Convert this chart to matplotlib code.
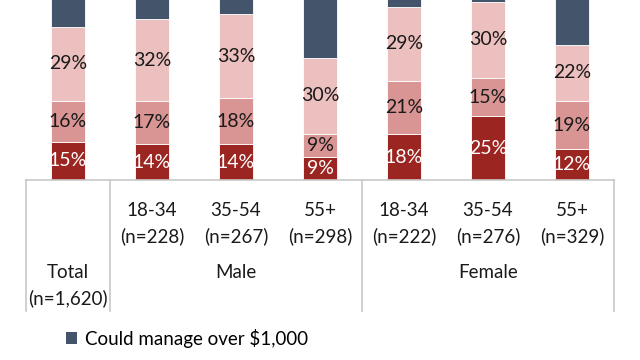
import matplotlib
matplotlib.use("Agg")
import matplotlib.pyplot as plt
from matplotlib.patches import Patch

plt.rcParams['font.family'] = ['Lato', 'DejaVu Sans']

# data (bottom to top of each stacked bar)
groups = ["Total", "18-34", "35-54", "55+", "18-34", "35-54", "55+"]
sizes = ["(n=1,620)", "(n=228)", "(n=267)", "(n=298)", "(n=222)", "(n=276)", "(n=329)"]
none_at_all = [15, 14, 14, 9, 18, 25, 12]
up_to_some = [16, 17, 18, 9, 21, 15, 19]
more = [29, 32, 33, 30, 29, 30, 22]
over_1000 = [40, 37, 35, 52, 32, 30, 47]

series = [none_at_all, up_to_some, more, over_1000]
colors = ["#9b2520", "#d99593", "#ebc0bf", "#44546a"]
label_colors = ["white", "#1a1a1a", "#1a1a1a", None]

PX = 2.55  # pixels per percent

fig = plt.figure(figsize=(6.4, 3.6), dpi=100)
ax = fig.add_axes([26 / 640, 0.5, 588 / 640, 0.5])

x = list(range(len(groups)))
bottom = [0] * len(x)
for vals, col, lc in zip(series, colors, label_colors):
    ax.bar(x, vals, bottom=bottom, width=0.4, color=col, edgecolor="white", linewidth=0.6)
    if lc is not None:
        for i, v in enumerate(vals):
            ax.text(i, bottom[i] + v / 2, "%d%%" % v, ha="center", va="center",
                    fontsize=14, color=lc)
    bottom = [b + v for b, v in zip(bottom, vals)]

ax.set_xlim(-0.5, 6.5)
ax.set_ylim(0, 180 / PX)
ax.axis("off")

# table-like category axis
line_col = "#c8c8c8"
ax.plot([-0.5, 6.5], [0, 0], color=line_col, lw=1.2, clip_on=False)
for xv in [-0.5, 0.5, 3.5, 6.5]:
    ax.plot([xv, xv], [0, -131 / PX], color=line_col, lw=1.2, clip_on=False)

def put(xv, px_below, s):
    ax.annotate(s, xy=(xv, 0), xytext=(0, -px_below * 0.72), textcoords="offset points",
                ha="center", va="center", fontsize=13.5, color="#1a1a1a", annotation_clip=False)

for i in range(1, 7):
    put(i, 31, groups[i])
    put(i, 56, sizes[i])
put(0, 92, groups[0])
put(0, 118, sizes[0])
put(2, 92, "Male")
put(5, 92, "Female")

fig.legend(handles=[Patch(facecolor=colors[3], edgecolor="none")],
           labels=["Could manage over $1,000"], loc="center left",
           bbox_to_anchor=(49 / 640, 1 - 338 / 360), frameon=False,
           fontsize=13.5, handlelength=0.6, handleheight=0.6, handletextpad=0.4)

fig.savefig("out.png", dpi=100)
